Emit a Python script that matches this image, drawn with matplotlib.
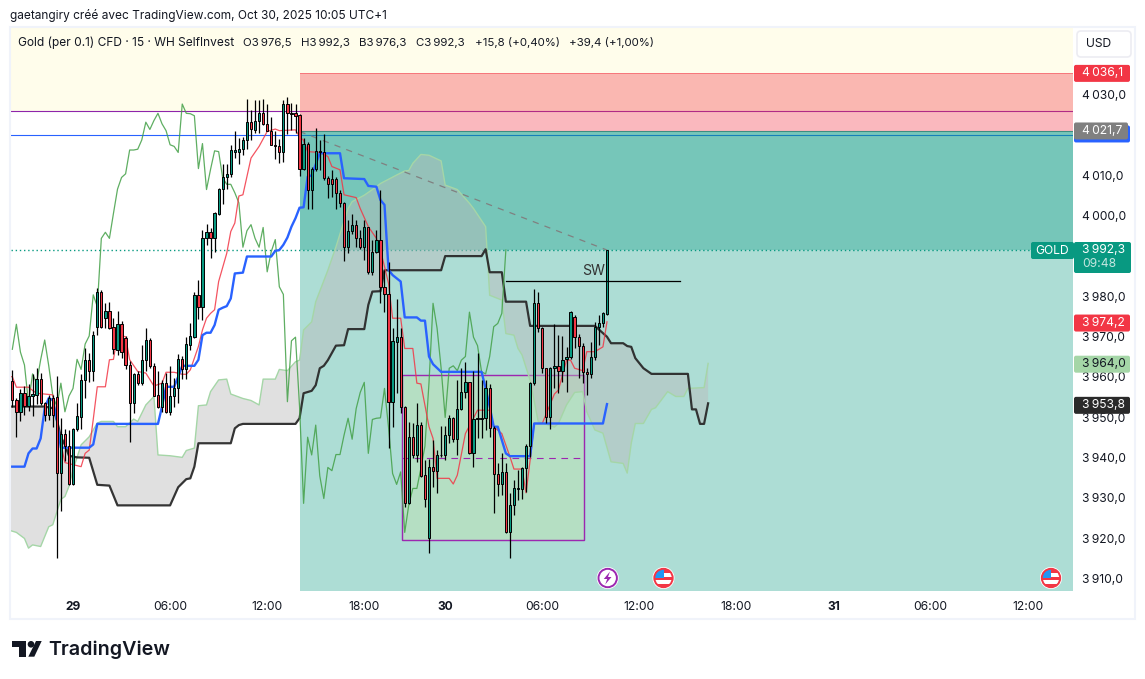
import numpy as np
import matplotlib
matplotlib.use("Agg")
import matplotlib.pyplot as plt
from matplotlib.patches import Circle, FancyBboxPatch, Polygon, Rectangle

plt.rcParams["font.family"] = ["Inter", "DejaVu Sans"]

# 15 min bars, index 0 is 29 Oct 00:00
first_bar = -15
opens = [
    3959.9, 3955.0, 3952.2, 3956.8, 3953.7, 3956.0, 3956.4, 3960.3, 3954.3, 3951.4,
    3955.6, 3955.8, 3937.1, 3946.7, 3943.6, 3934.2, 3947.9, 3951.0, 3960.1, 3965.1,
    3962.2, 3973.3, 3982.0, 3975.4, 3977.2, 3973.2, 3967.5, 3973.9, 3970.4, 3963.8,
    3954.3, 3961.6, 3959.3, 3965.1, 3970.0, 3963.6, 3956.4, 3953.5, 3959.3, 3952.2,
    3956.1, 3958.0, 3965.2, 3962.7, 3968.8, 3970.8, 3981.2, 3978.3, 3995.2, 3996.7,
    3995.2, 4001.3, 4007.4, 4010.3, 4011.2, 4016.5, 4016.5, 4017.3, 4019.6, 4024.0,
    4022.1, 4024.4, 4026.2, 4023.6, 4021.9, 4018.4, 4018.0, 4016.5, 4028.5, 4026.2,
    4026.2, 4025.8, 4012.5, 4018.7, 4007.3, 4012.3, 4016.9, 4016.7, 4010.2, 4009.9,
    4009.9, 4006.5, 4004.0, 3993.0, 3997.1, 3998.6, 3995.2, 3993.0, 3997.9, 3986.9,
    3991.9, 3994.9, 3983.2, 3981.3, 3954.7, 3969.6, 3970.7, 3953.5, 3929.5, 3945.9,
    3941.5, 3948.9, 3936.5, 3920.8, 3938.4, 3937.6, 3941.5, 3941.5, 3946.4, 3950.6,
    3945.4, 3953.0, 3957.0, 3959.5, 3941.9, 3950.3, 3950.5, 3950.6, 3958.0, 3948.3,
    3936.9, 3934.2, 3937.3, 3922.3, 3929.1, 3933.1, 3933.0, 3938.2, 3943.7, 3959.4,
    3979.1, 3972.9, 3963.0, 3950.8, 3963.0, 3963.6, 3962.4, 3965.2, 3965.7, 3975.8,
    3970.7, 3968.6, 3962.0, 3961.6, 3965.9, 3973.1, 3974.1, 3976.5,
]
highs = [
    3962.6, 3955.6, 3957.8, 3958.5, 3959.0, 3961.6, 3963.0, 3961.8, 3954.7, 3956.4,
    3956.4, 3961.1, 3950.6, 3947.9, 3947.7, 3948.1, 3954.3, 3961.6, 3968.0, 3966.7,
    3972.3, 3982.8, 3982.4, 3979.1, 3979.5, 3975.4, 3977.2, 3974.8, 3971.0, 3964.9,
    3961.9, 3962.2, 3968.8, 3972.9, 3970.4, 3964.2, 3962.2, 3960.1, 3961.8, 3963.6,
    3960.5, 3966.5, 3966.0, 3970.8, 3974.1, 3982.0, 3984.9, 3997.3, 3998.8, 3997.7,
    4001.8, 4007.6, 4013.7, 4013.7, 4018.4, 4021.7, 4020.0, 4020.4, 4029.8, 4027.0,
    4029.5, 4029.5, 4029.8, 4028.5, 4025.4, 4021.9, 4019.8, 4029.5, 4030.2, 4028.7,
    4028.5, 4026.0, 4020.0, 4019.2, 4013.0, 4022.5, 4019.7, 4021.0, 4010.6, 4012.1,
    4010.5, 4007.2, 4004.3, 3999.7, 4001.2, 3999.7, 3997.3, 3999.7, 3998.1, 3994.8,
    3997.3, 4007.2, 3987.4, 3989.4, 3972.9, 3980.1, 3972.9, 3953.6, 3949.7, 3949.3,
    3954.3, 3949.7, 3940.2, 3940.4, 3945.2, 3942.7, 3948.7, 3948.7, 3951.4, 3951.0,
    3960.1, 3963.0, 3964.5, 3959.7, 3962.2, 3966.7, 3960.1, 3960.1, 3959.1, 3948.7,
    3939.4, 3942.1, 3939.4, 3932.0, 3935.3, 3937.8, 3938.6, 3944.2, 3959.7, 3982.6,
    3982.0, 3973.1, 3963.0, 3963.4, 3974.0, 3971.2, 3971.0, 3968.3, 3977.3, 3976.2,
    3971.6, 3969.2, 3963.0, 3969.6, 3974.5, 3976.2, 3977.0, 3992.3,
]
lows = [
    3953.5, 3945.9, 3950.0, 3951.4, 3952.4, 3951.2, 3954.1, 3953.9, 3950.0, 3950.2,
    3948.5, 3916.0, 3927.5, 3940.1, 3934.1, 3934.1, 3947.5, 3947.9, 3955.6, 3959.7,
    3959.9, 3971.3, 3972.9, 3972.9, 3972.7, 3966.5, 3966.3, 3965.5, 3962.7, 3944.6,
    3952.0, 3958.9, 3958.9, 3962.4, 3963.0, 3956.0, 3953.1, 3952.2, 3952.0, 3951.4,
    3953.5, 3954.5, 3960.3, 3960.3, 3967.5, 3970.4, 3975.1, 3975.0, 3993.6, 3990.3,
    3991.7, 4001.0, 4003.7, 4007.4, 4010.3, 4015.1, 4013.7, 4015.9, 4017.3, 4019.6,
    4021.4, 4021.3, 4023.3, 4021.7, 4018.3, 4014.8, 4013.8, 4014.1, 4021.1, 4022.1,
    4021.3, 4010.6, 4012.1, 4002.6, 4002.6, 4012.0, 4012.1, 4009.7, 4005.1, 4005.4,
    4002.4, 4003.0, 3989.6, 3991.6, 3996.4, 3993.1, 3992.5, 3989.8, 3986.4, 3986.1,
    3991.5, 3979.1, 3977.0, 3943.3, 3948.5, 3956.8, 3951.8, 3928.7, 3929.3, 3940.7,
    3939.8, 3936.1, 3928.5, 3917.1, 3933.6, 3932.0, 3941.1, 3940.2, 3944.4, 3944.8,
    3941.5, 3952.6, 3955.5, 3941.7, 3938.4, 3945.6, 3945.6, 3947.7, 3946.0, 3927.0,
    3931.2, 3931.6, 3922.1, 3915.9, 3926.6, 3930.3, 3930.5, 3932.4, 3941.1, 3958.8,
    3972.1, 3961.9, 3949.3, 3947.9, 3958.0, 3956.9, 3959.7, 3957.2, 3965.2, 3967.9,
    3960.7, 3959.4, 3956.4, 3960.7, 3965.0, 3968.8, 3973.1, 3976.3,
]
closes = [
    3955.0, 3952.2, 3956.8, 3953.7, 3956.1, 3956.6, 3960.3, 3954.3, 3951.4, 3955.6,
    3951.4, 3937.1, 3946.7, 3943.6, 3934.2, 3947.9, 3951.2, 3960.1, 3965.1, 3962.2,
    3971.3, 3982.0, 3973.3, 3977.2, 3972.9, 3967.7, 3973.9, 3967.0, 3963.8, 3954.3,
    3961.6, 3959.3, 3965.1, 3970.0, 3963.6, 3956.2, 3953.5, 3959.3, 3952.2, 3956.1,
    3958.0, 3965.2, 3962.7, 3969.0, 3971.0, 3981.2, 3978.3, 3995.2, 3996.7, 3995.2,
    4001.4, 4007.4, 4010.3, 4011.2, 4017.1, 4017.1, 4017.3, 4019.6, 4024.0, 4022.2,
    4024.4, 4026.2, 4023.6, 4021.9, 4018.4, 4018.0, 4016.5, 4028.5, 4026.2, 4026.1,
    4025.6, 4012.5, 4018.7, 4007.3, 4012.3, 4016.9, 4016.7, 4010.2, 4008.6, 4008.6,
    4006.5, 4004.0, 3993.0, 3997.1, 3998.6, 3995.2, 3993.0, 3997.9, 3986.9, 3991.9,
    3994.9, 3983.2, 3981.3, 3954.7, 3969.8, 3970.7, 3953.5, 3929.5, 3945.9, 3941.5,
    3948.9, 3936.3, 3930.7, 3938.4, 3937.6, 3941.6, 3941.6, 3946.4, 3950.6, 3945.4,
    3953.0, 3957.0, 3959.5, 3941.9, 3950.3, 3950.6, 3950.7, 3958.0, 3948.3, 3936.9,
    3934.2, 3937.3, 3922.3, 3929.1, 3933.2, 3933.2, 3938.2, 3943.7, 3959.4, 3979.1,
    3972.9, 3963.0, 3950.8, 3963.0, 3963.6, 3962.4, 3965.0, 3965.9, 3976.9, 3970.7,
    3968.6, 3962.1, 3961.6, 3965.9, 3973.3, 3974.1, 3976.6, 3992.3,
]

kijun_x = [-16, -12, -11, -10, -9, -8, -7, -6, -5, -4, -3, 4, 5, 6, 21, 22, 23, 25, 26, 27,
           30, 31, 32, 33, 34, 35, 36, 37, 38, 39, 40, 42, 43, 49, 50, 51, 52, 53, 54, 55,
           56, 57, 58, 59, 61, 66, 67, 72, 73, 75, 76, 77, 78, 79, 81, 82, 85, 86, 87, 88,
           89, 91, 101, 102, 103, 104, 105, 107, 108, 113, 114, 131, 132]
kijun = [3938.6, 3938.6, 3941.9, 3943.1, 3943.1, 3945.6, 3953.1, 3955.6, 3955.1, 3950.2,
         3943.3, 3943.3, 3944.1, 3949.2, 3949.2, 3953.5, 3958.4, 3958.4, 3960.9, 3963.6,
         3963.6, 3965.1, 3971.2, 3971.8, 3971.8, 3973.7, 3977.5, 3978.0, 3978.4, 3980.3,
         3986.5, 3986.7, 3990.7, 3990.7, 3992.1, 3992.3, 3993.6, 3995.4, 3998.1, 4000.2,
         4002.8, 4002.9, 4010.5, 4010.8, 4016.3, 4016.3, 4010.1, 4009.9, 4008.2, 4008.0,
         4004.7, 4003.5, 3987.4, 3986.1, 3984.5, 3975.6, 3975.6, 3974.8, 3974.8, 3965.9,
         3964.0, 3962.1, 3962.1, 3958.0, 3953.5, 3948.5, 3948.5, 3941.9, 3941.2, 3941.2,
         3949.3, 3949.3, 3954.1]

tenkan_x = [-16, -15, -14, -11, -10, -9, -5, -4, -3, -2, 2, 3, 4, 5, 6, 8, 9, 10, 11, 13,
            14, 16, 18, 20, 22, 23, 25, 27, 28, 29, 31, 32, 33, 34, 35, 36, 38, 39, 40, 41,
            42, 44, 46, 48, 50, 51, 55, 56, 57, 58, 61, 63, 64, 66, 67, 70, 71, 73, 75, 76,
            77, 78, 79, 81, 82, 84, 85, 86, 88, 89, 90, 93, 94, 95, 97, 100, 103, 104, 106,
            108, 109, 111, 112, 113, 114, 116, 119, 120, 122, 123, 124, 126, 127, 129, 131, 132]
tenkan = [3960.9, 3960.9, 3958.3, 3958.3, 3957.5, 3956.8, 3956.4, 3950.2, 3944.4, 3939.6,
          3938.6, 3941.9, 3942.7, 3950.3, 3958.4, 3958.4, 3965.1, 3965.2, 3971.3, 3970.8,
          3965.1, 3962.2, 3961.8, 3958.6, 3959.3, 3962.0, 3962.0, 3961.5, 3961.5, 3962.6,
          3968.4, 3972.5, 3975.4, 3976.6, 3977.5, 3984.5, 3991.5, 3996.9, 3999.0, 4005.7,
          4006.0, 4015.1, 4018.0, 4021.7, 4022.3, 4021.9, 4022.1, 4020.4, 4019.5, 4016.7,
          4016.5, 4015.5, 4013.0, 4012.2, 4006.0, 4005.3, 4002.6, 3998.1, 3995.2, 3992.3,
          3988.2, 3984.0, 3975.4, 3975.4, 3967.9, 3967.9, 3959.3, 3959.1, 3948.5, 3945.6,
          3935.7, 3935.7, 3934.3, 3936.5, 3946.8, 3952.6, 3952.6, 3948.5, 3946.8, 3941.1,
          3938.0, 3938.0, 3932.1, 3940.2, 3949.3, 3949.3, 3956.6, 3957.6, 3965.0, 3965.0,
          3963.0, 3962.4, 3967.1, 3967.1, 3968.3, 3974.5]

senkou_a_x = [-16, -14, -12, -11, -10, -8, -6, -5, -3, -2, -1, 0, 2, 4, 5, 6, 7, 10, 11, 13,
              15, 16, 18, 20, 21, 24, 27, 28, 30, 31, 33, 34, 36, 38, 39, 42, 44, 46, 47, 50,
              51, 53, 55, 56, 57, 59, 60, 63, 65, 66, 68, 69, 72, 75, 76, 80, 82, 83, 84, 86,
              88, 91, 92, 95, 98, 99, 102, 103, 106, 107, 109, 110, 111, 113, 115, 119, 120,
              122, 124, 126, 127, 129, 131, 133, 136, 137, 138, 139, 141, 143, 144, 147, 149,
              151, 152, 156, 157]
senkou_a = [3922.9, 3922.3, 3920.8, 3918.4, 3919.2, 3918.8, 3923.7, 3924.2, 3930.5, 3931.2,
            3933.7, 3937.8, 3944.0, 3946.0, 3947.7, 3949.4, 3949.8, 3949.8, 3948.5, 3948.5,
            3950.4, 3949.8, 3953.9, 3956.0, 3941.5, 3941.3, 3940.9, 3942.6, 3943.2, 3953.7,
            3953.9, 3957.2, 3960.1, 3960.3, 3956.6, 3955.5, 3955.0, 3953.9, 3960.3, 3960.3,
            3962.7, 3962.4, 3964.6, 3965.0, 3972.5, 3974.5, 3979.5, 3987.3, 3993.1, 3996.3,
            4002.6, 4004.3, 4005.9, 4008.0, 4008.8, 4010.9, 4011.9, 4012.0, 4013.8, 4016.0,
            4015.8, 4014.4, 4008.4, 4007.3, 4003.9, 4002.6, 3998.1, 3981.1, 3979.9, 3971.6,
            3971.2, 3967.9, 3966.3, 3960.0, 3949.8, 3948.4, 3949.3, 3953.9, 3957.0, 3957.2,
            3952.2, 3947.7, 3946.9, 3939.8, 3939.4, 3937.0, 3944.4, 3949.3, 3949.3, 3952.8,
            3953.2, 3957.2, 3956.0, 3956.0, 3958.0, 3958.2, 3964.2]

senkou_b_x = [-16, -7, -5, -4, -3, -2, -1, 1, 4, 6, 9, 11, 24, 26, 27, 28, 29, 30, 31, 39, 40,
              41, 42, 55, 56, 57, 59, 60, 61, 62, 63, 65, 67, 68, 72, 73, 74, 76, 77, 91, 92,
              101, 102, 103, 106, 107, 112, 113, 129, 132, 133, 136, 137, 138, 139, 141, 143,
              152, 153, 154, 155, 156, 157]
senkou_b = [3953.5, 3953.5, 3953.1, 3950.2, 3946.0, 3944.0, 3941.3, 3940.9, 3940.8, 3934.1,
            3933.9, 3929.0, 3929.0, 3933.5, 3934.5, 3935.5, 3935.7, 3938.6, 3944.4, 3944.4,
            3948.1, 3948.9, 3949.2, 3949.2, 3950.6, 3956.8, 3957.4, 3958.8, 3963.0, 3963.6,
            3965.0, 3968.6, 3968.7, 3972.7, 3972.7, 3978.7, 3982.0, 3982.1, 3987.3, 3987.3,
            3990.8, 3990.8, 3992.5, 3986.8, 3986.8, 3979.5, 3979.5, 3973.5, 3973.5, 3970.8,
            3969.2, 3969.2, 3968.5, 3968.3, 3965.5, 3963.0, 3961.6, 3961.6, 3952.8, 3952.8,
            3949.2, 3949.2, 3954.3]

last_price = 3992.3
stop_price = 4036.1
entry_price = 4021.7
upper_level = 4026.8
lower_level = 4020.8
box_start = 56.1
range_box = (81.3, 126.2, 3920.4, 3961.3, 3940.8)
sw_line = (107, 150, 3984.6)
trend = ([56, 132], [4021.7, 3992.3])

price_ticks = [3910, 3920, 3930, 3940, 3950, 3960, 3970, 3980, 4000, 4010, 4030]
time_ticks = [0, 24, 48, 72, 92, 116, 140, 164, 188, 212, 236]
time_labels = ["29", "06:00", "12:00", "18:00", "30", "06:00", "12:00", "18:00", "31", "06:00", "12:00"]
tags = [(4036.1, "4\u2009036,1", "#f23645", "white"), (3974.2, "3\u2009974,2", "#f23645", "white"),
        (3964.0, "3\u2009964,0", "#a5d6a7", "#131722"), (3953.8, "3\u2009953,8", "#2a2a2a", "white")]
legend_parts = [(243, "O3\u2009976,5"), (300.7, "H3\u2009992,3"), (359.3, "B3\u2009976,3"),
                (416, "C3\u2009992,3"), (475, "+15,8 (+0,40%)"), (569, "+39,4 (+1,00%)")]

UP = "#089981"
DOWN = "#f23645"
W, H = 1145, 679
BLUE = "#2962ff"

fig = plt.figure(figsize=(W / 100, H / 100), dpi=100, facecolor="white")
ax = fig.add_axes([11 / W, (H - 591) / H, 1062 / W, 564 / H])
ax.set_xlim(-15.33, 247.2)
ax.set_ylim(3907.77, 4047.6)
for s in ax.spines.values():
    s.set_visible(False)

# backgrounds and the position tool
ax.axhspan(upper_level, 4047.6, color="#fffdeb", lw=0, zorder=1)
ax.axhline(upper_level, color="#8e24aa", lw=0.8, zorder=1.5)
ax.axhline(lower_level, color=BLUE, lw=0.8, zorder=1.5)
xmax = 247.2
ax.add_patch(Rectangle((box_start, entry_price), xmax - box_start, stop_price - entry_price, fc=DOWN, alpha=0.35, lw=0, zorder=2))
ax.plot([box_start, xmax], [stop_price] * 2, color=DOWN, lw=0.7, alpha=0.5, zorder=2)
ax.plot([box_start, xmax], [entry_price] * 2, color="#808080", lw=0.8, zorder=2)
ax.add_patch(Rectangle((box_start, 3907.77), xmax - box_start, entry_price - 3907.77, fc=UP, alpha=0.33, lw=0, zorder=2))
ax.add_patch(Rectangle((box_start, last_price), xmax - box_start, entry_price - last_price, fc=UP, alpha=0.33, lw=0, zorder=2))
ax.axhline(last_price, color=UP, lw=1, ls=(0, (1, 2)), zorder=2.2)

x0, x1, y0, y1, ymid = range_box
ax.add_patch(Rectangle((x0, y0), x1 - x0, y1 - y0, fc="#b9e0bd", ec="#9c27b0", lw=0.9, alpha=0.75, zorder=2.5))
ax.add_patch(Rectangle((x0, y0), x1 - x0, y1 - y0, fc="none", ec="#9c27b0", lw=0.9, zorder=2.6))
ax.plot([x0, x1], [ymid, ymid], color="#9c27b0", lw=0.8, ls=(0, (6, 5)), zorder=2.6)

# ichimoku
ax.fill(senkou_a_x + senkou_b_x[::-1], senkou_a + senkou_b[::-1], fc="#bbbbbb", alpha=0.45, lw=0, zorder=3)
ax.plot(senkou_a_x, senkou_a, color="#a5d6a7", lw=1, zorder=3.2)
ax.plot(senkou_b_x, senkou_b, color="#2a2a2a", lw=1.6, alpha=0.95, zorder=3.4)
bars = np.arange(first_bar, first_bar + len(closes))
# lagging span is the close pushed back 25 bars
ax.plot(bars[:-25], closes[25:], color="#43a047", lw=0.9, alpha=0.85, zorder=3.6)
ax.plot(tenkan_x, tenkan, color=DOWN, lw=0.9, alpha=0.85, zorder=3.7)
ax.plot(kijun_x, kijun, color=BLUE, lw=1.7, zorder=3.8)
ax.plot(trend[0], trend[1], color="#808080", lw=0.9, ls=(0, (5, 5)), zorder=3.9)

# candles
o = np.array(opens)
c = np.array(closes)
ax.vlines(bars, lows, highs, color="black", lw=0.9, zorder=5)
colors = [UP if b >= a else DOWN for a, b in zip(o, c)]
ax.bar(bars, np.maximum(np.abs(c - o), 0.05), bottom=np.minimum(o, c), width=0.56, color=colors,
       edgecolor="black", linewidth=0.7, zorder=5.5)

ax.plot(sw_line[:2], [sw_line[2]] * 2, color="black", lw=0.9, zorder=6)
ax.text(128.6, 3987.2, "SW", fontsize=10.2, color="#333333", ha="center", va="center", zorder=6)

# scale labels sit 2 px above their level, so annotate instead of tick labels
ax.set_yticks([])
for p in price_ticks:
    ax.annotate(f"{p // 1000}\u2009{p % 1000:03d},0", xy=(1, p), xycoords=ax.get_yaxis_transform(), xytext=(6.5, 1.4),
                textcoords="offset points", ha="left", va="center", fontsize=8.7, color="#131722", annotation_clip=False)
ax.set_xticks(time_ticks)
ax.set_xticklabels(time_labels, fontsize=8.7, color="#131722")
for lab, txt in zip(ax.get_xticklabels(), time_labels):
    if ":" not in txt:
        lab.set_fontweight("bold")
ax.tick_params(axis="x", length=0, pad=7)

# overlay in pixels for the TradingView chrome
ov = fig.add_axes([0, 0, 1, 1], zorder=10)
ov.set_xlim(0, W)
ov.set_ylim(H, 0)
ov.axis("off")


def py(price):
    return H - ax.transData.transform((0, price))[1]


def tag(x, y, w, h, fc, zorder=11):
    ov.add_patch(FancyBboxPatch((x + 2, y + 2), w - 4, h - 4, boxstyle="round,pad=2,rounding_size=2",
                                fc=fc, lw=0, zorder=zorder))


frame = "#f0f3fa"
ov.add_patch(Rectangle((10, 27), 1125, 592, fc="none", ec=frame, lw=1.5, zorder=1))
ov.add_patch(FancyBboxPatch((1079, 33), 50, 22, boxstyle="round,pad=2,rounding_size=4", fc="white", ec="#ececf2", lw=1.2))
ov.text(1099, 44, "USD", fontsize=8.7, ha="center", va="center", color="#131722")

ov.text(10, 15, "gaetangiry créé avec TradingView.com, Oct 30, 2025 10:05 UTC+1", fontsize=8.56, va="center", color="#131722")
ov.text(18, 42.5, "Gold (per 0.1) CFD · 15 · WH SelfInvest", fontsize=8.6, va="center", color="#131722")
for px, part in legend_parts:
    ov.text(px, 42.5, part, fontsize=8.25, va="center", color="#131722")

# price tags
tag(1074, py(entry_price) - 6, 56, 17, BLUE, 11)
tag(1074, py(entry_price) - 9, 54, 17, "#808080", 12)
ov.text(1082, py(entry_price) - 0.5, "4\u2009021,7", fontsize=8.7, color="white", va="center", zorder=13)
for price, label, fc, tc in tags:
    tag(1074, py(price) - 8.5, 56, 17, fc)
    ov.text(1082, py(price), label, fontsize=8.7, color=tc, va="center", zorder=13)

tag(1031, 242, 43, 17, UP)
ov.text(1052, 250.5, "GOLD", fontsize=8.7, color="white", ha="center", va="center", zorder=13)
tag(1074, 242, 57, 31, UP)
ov.text(1082, 250, "3\u2009992,3", fontsize=8.7, color="white", va="center", zorder=13)
ov.text(1082, 264, "09:48", fontsize=8.7, color="#c4e6df", va="center", zorder=13)

# event markers
ov.add_patch(Circle((607.7, 578), 11, fc="white", lw=0))
ov.add_patch(Circle((607.7, 578), 9.2, fc="white", ec="#9c27b0", lw=1.4))
ov.add_patch(Polygon([(610, 571.5), (603.8, 579), (607.2, 579), (605.2, 584.5), (611.5, 577), (608, 577)], fc="#9c27b0", lw=0))
for cx in [663.5, 1051]:
    ov.add_patch(Circle((cx, 578), 11, fc="white", lw=0))
    clip = Circle((cx, 578), 9, transform=ov.transData)
    for k, col in enumerate(["#f23645", "white", "#f23645", "white", "#f23645"]):
        r = ov.add_patch(Rectangle((cx - 10, 569 + k * 3.8), 20, 3.8, fc=col, lw=0))
        r.set_clip_path(clip)
    r = ov.add_patch(Rectangle((cx - 10, 568), 10, 10, fc="#2196f3", lw=0))
    r.set_clip_path(clip)
    ov.add_patch(Circle((cx, 578), 9.2, fc="none", ec="#f23645", lw=1.4))

# logo
logo = "#131722"
ov.add_patch(Polygon([(12.3, 641), (25.7, 641), (25.7, 656.7), (19, 656.7), (19, 647.3), (12.3, 647.3)], fc=logo, lw=0))
ov.add_patch(Circle((31, 644.3), 3.3, fc=logo, lw=0))
ov.add_patch(Polygon([(36, 641), (41.7, 641), (34.3, 656.7), (28.3, 656.7)], fc=logo, lw=0))
ov.text(48, 649.5, "TradingView", fontsize=14.2, fontweight="semibold", color=logo, va="center")

fig.savefig("out.png", dpi=100)
